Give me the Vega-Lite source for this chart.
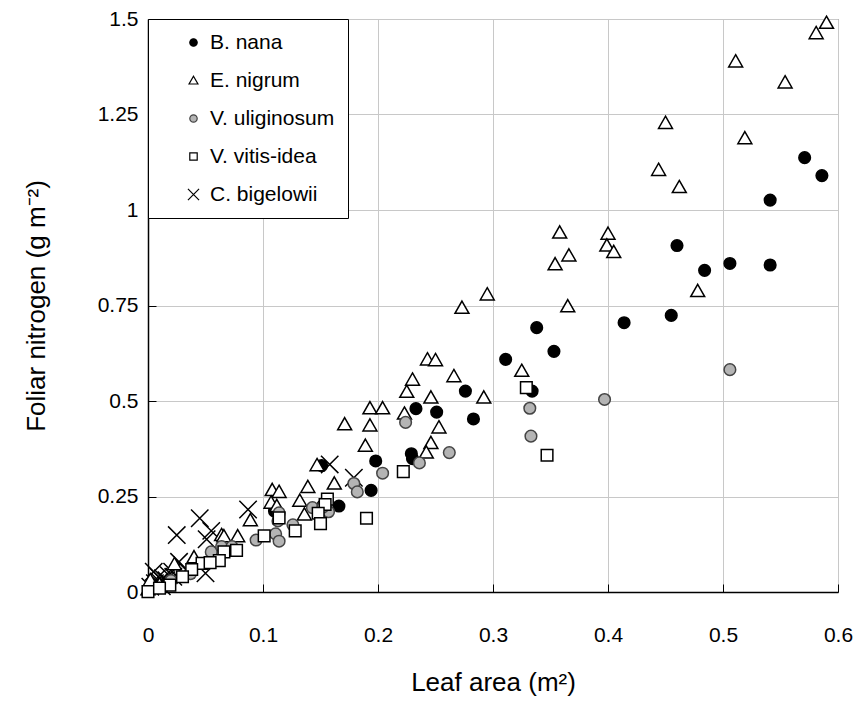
{
  "$schema": "https://vega.github.io/schema/vega-lite/v6.json",
  "width": 690,
  "height": 573,
  "autosize": {"type": "none"},
  "padding": {"left": 148, "top": 19, "right": 26, "bottom": 120},
  "background": "white",
  "config": {
    "font": "Liberation Sans",
    "view": {"stroke": "#555", "strokeWidth": 1},
    "legend": {
      "title": null, "orient": "top-left", "offset": 0,
      "labelFontSize": 21, "labelColor": "black", "labelLimit": 300, "labelOffset": 6,
      "symbolSize": 55, "symbolStrokeWidth": 1.2, "symbolOffset": 22,
      "rowPadding": 16, "padding": 13,
      "strokeColor": "black", "fillColor": "white"
    }
  },
  "data": {"values": [
    {"s":"B. nana","x":0.571,"y":1.137},{"s":"B. nana","x":0.586,"y":1.090},{"s":"B. nana","x":0.541,"y":1.026},
    {"s":"B. nana","x":0.460,"y":0.907},{"s":"B. nana","x":0.506,"y":0.860},{"s":"B. nana","x":0.541,"y":0.856},
    {"s":"B. nana","x":0.484,"y":0.842},{"s":"B. nana","x":0.455,"y":0.724},{"s":"B. nana","x":0.414,"y":0.705},
    {"s":"B. nana","x":0.338,"y":0.692},{"s":"B. nana","x":0.353,"y":0.630},{"s":"B. nana","x":0.311,"y":0.609},
    {"s":"B. nana","x":0.334,"y":0.526},{"s":"B. nana","x":0.276,"y":0.526},{"s":"B. nana","x":0.251,"y":0.471},
    {"s":"B. nana","x":0.233,"y":0.480},{"s":"B. nana","x":0.283,"y":0.453},{"s":"B. nana","x":0.229,"y":0.362},
    {"s":"B. nana","x":0.230,"y":0.349},{"s":"B. nana","x":0.198,"y":0.343},{"s":"B. nana","x":0.151,"y":0.331},
    {"s":"B. nana","x":0.194,"y":0.266},{"s":"B. nana","x":0.166,"y":0.225},{"s":"B. nana","x":0.110,"y":0.212},
    {"s":"B. nana","x":0.152,"y":0.226},

    {"s":"E. nigrum","x":0.590,"y":1.490},{"s":"E. nigrum","x":0.581,"y":1.463},{"s":"E. nigrum","x":0.511,"y":1.389},
    {"s":"E. nigrum","x":0.554,"y":1.334},{"s":"E. nigrum","x":0.450,"y":1.228},{"s":"E. nigrum","x":0.519,"y":1.188},
    {"s":"E. nigrum","x":0.444,"y":1.105},{"s":"E. nigrum","x":0.462,"y":1.060},{"s":"E. nigrum","x":0.400,"y":0.938},
    {"s":"E. nigrum","x":0.399,"y":0.907},{"s":"E. nigrum","x":0.405,"y":0.890},{"s":"E. nigrum","x":0.358,"y":0.941},
    {"s":"E. nigrum","x":0.366,"y":0.881},{"s":"E. nigrum","x":0.354,"y":0.858},{"s":"E. nigrum","x":0.295,"y":0.779},
    {"s":"E. nigrum","x":0.273,"y":0.744},{"s":"E. nigrum","x":0.365,"y":0.748},{"s":"E. nigrum","x":0.478,"y":0.788},
    {"s":"E. nigrum","x":0.243,"y":0.609},{"s":"E. nigrum","x":0.250,"y":0.607},{"s":"E. nigrum","x":0.325,"y":0.579},
    {"s":"E. nigrum","x":0.266,"y":0.565},{"s":"E. nigrum","x":0.246,"y":0.509},{"s":"E. nigrum","x":0.292,"y":0.509},
    {"s":"E. nigrum","x":0.253,"y":0.431},{"s":"E. nigrum","x":0.246,"y":0.390},{"s":"E. nigrum","x":0.230,"y":0.556},
    {"s":"E. nigrum","x":0.225,"y":0.524},{"s":"E. nigrum","x":0.193,"y":0.481},{"s":"E. nigrum","x":0.204,"y":0.481},
    {"s":"E. nigrum","x":0.223,"y":0.467},{"s":"E. nigrum","x":0.193,"y":0.436},{"s":"E. nigrum","x":0.189,"y":0.383},
    {"s":"E. nigrum","x":0.242,"y":0.365},{"s":"E. nigrum","x":0.171,"y":0.439},{"s":"E. nigrum","x":0.147,"y":0.332},
    {"s":"E. nigrum","x":0.162,"y":0.284},{"s":"E. nigrum","x":0.139,"y":0.275},{"s":"E. nigrum","x":0.108,"y":0.267},
    {"s":"E. nigrum","x":0.114,"y":0.262},{"s":"E. nigrum","x":0.132,"y":0.239},{"s":"E. nigrum","x":0.107,"y":0.234},
    {"s":"E. nigrum","x":0.112,"y":0.225},{"s":"E. nigrum","x":0.136,"y":0.203},{"s":"E. nigrum","x":0.089,"y":0.188},
    {"s":"E. nigrum","x":0.064,"y":0.149},{"s":"E. nigrum","x":0.066,"y":0.146},{"s":"E. nigrum","x":0.078,"y":0.146},
    {"s":"E. nigrum","x":0.040,"y":0.091},{"s":"E. nigrum","x":0.023,"y":0.073},{"s":"E. nigrum","x":0.000,"y":0.007},
    {"s":"E. nigrum","x":0.002,"y":0.031},{"s":"E. nigrum","x":0.010,"y":0.020},

    {"s":"V. uliginosum","x":0.506,"y":0.582},{"s":"V. uliginosum","x":0.397,"y":0.504},{"s":"V. uliginosum","x":0.332,"y":0.481},
    {"s":"V. uliginosum","x":0.333,"y":0.408},{"s":"V. uliginosum","x":0.224,"y":0.444},{"s":"V. uliginosum","x":0.262,"y":0.365},
    {"s":"V. uliginosum","x":0.236,"y":0.338},{"s":"V. uliginosum","x":0.204,"y":0.311},{"s":"V. uliginosum","x":0.179,"y":0.284},
    {"s":"V. uliginosum","x":0.182,"y":0.262},{"s":"V. uliginosum","x":0.143,"y":0.221},{"s":"V. uliginosum","x":0.157,"y":0.210},
    {"s":"V. uliginosum","x":0.126,"y":0.176},{"s":"V. uliginosum","x":0.114,"y":0.207},{"s":"V. uliginosum","x":0.113,"y":0.186},
    {"s":"V. uliginosum","x":0.111,"y":0.152},{"s":"V. uliginosum","x":0.114,"y":0.133},{"s":"V. uliginosum","x":0.094,"y":0.136},
    {"s":"V. uliginosum","x":0.055,"y":0.105},{"s":"V. uliginosum","x":0.064,"y":0.119},{"s":"V. uliginosum","x":0.073,"y":0.119},
    {"s":"V. uliginosum","x":0.037,"y":0.048},{"s":"V. uliginosum","x":0.152,"y":0.222},{"s":"V. uliginosum","x":0.020,"y":0.030},

    {"s":"V. vitis-idea","x":0.347,"y":0.358},{"s":"V. vitis-idea","x":0.329,"y":0.535},{"s":"V. vitis-idea","x":0.222,"y":0.315},
    {"s":"V. vitis-idea","x":0.156,"y":0.243},{"s":"V. vitis-idea","x":0.154,"y":0.229},{"s":"V. vitis-idea","x":0.148,"y":0.206},
    {"s":"V. vitis-idea","x":0.150,"y":0.179},{"s":"V. vitis-idea","x":0.190,"y":0.193},{"s":"V. vitis-idea","x":0.128,"y":0.160},
    {"s":"V. vitis-idea","x":0.114,"y":0.194},{"s":"V. vitis-idea","x":0.101,"y":0.147},{"s":"V. vitis-idea","x":0.066,"y":0.105},
    {"s":"V. vitis-idea","x":0.077,"y":0.109},{"s":"V. vitis-idea","x":0.062,"y":0.082},{"s":"V. vitis-idea","x":0.047,"y":0.075},
    {"s":"V. vitis-idea","x":0.054,"y":0.077},{"s":"V. vitis-idea","x":0.038,"y":0.059},{"s":"V. vitis-idea","x":0.000,"y":0.001},
    {"s":"V. vitis-idea","x":0.019,"y":0.018},{"s":"V. vitis-idea","x":0.010,"y":0.010},{"s":"V. vitis-idea","x":0.030,"y":0.040},

    {"s":"C. bigelowii","x":0.158,"y":0.334},{"s":"C. bigelowii","x":0.179,"y":0.299},{"s":"C. bigelowii","x":0.087,"y":0.216},
    {"s":"C. bigelowii","x":0.045,"y":0.193},{"s":"C. bigelowii","x":0.025,"y":0.149},{"s":"C. bigelowii","x":0.055,"y":0.160},
    {"s":"C. bigelowii","x":0.051,"y":0.138},{"s":"C. bigelowii","x":0.027,"y":0.079},{"s":"C. bigelowii","x":0.050,"y":0.049},
    {"s":"C. bigelowii","x":0.005,"y":0.053},{"s":"C. bigelowii","x":0.009,"y":0.040},{"s":"C. bigelowii","x":0.013,"y":0.036},
    {"s":"C. bigelowii","x":0.018,"y":0.044},{"s":"C. bigelowii","x":0.021,"y":0.053},{"s":"C. bigelowii","x":0.010,"y":0.027},
    {"s":"C. bigelowii","x":0.002,"y":0.014},{"s":"C. bigelowii","x":0.006,"y":0.023},{"s":"C. bigelowii","x":0.016,"y":0.031},
    {"s":"C. bigelowii","x":0.022,"y":0.040},{"s":"C. bigelowii","x":0.033,"y":0.058},{"s":"C. bigelowii","x":0.012,"y":0.015}
  ]},
  "mark": {"type": "point", "strokeWidth": 1.5, "opacity": 1, "fillOpacity": 1, "size": 135},
  "encoding": {
    "x": {
      "field": "x", "type": "quantitative",
      "scale": {"domain": [0, 0.6], "nice": false, "zero": true},
      "axis": {
        "values": [0, 0.1, 0.2, 0.3, 0.4, 0.5, 0.6],
        "labelExpr": "'' + datum.value",
        "title": "Leaf area (m²)",
        "titleFontSize": 26, "titleFontWeight": "normal", "titleColor": "black", "titlePadding": 24,
        "labelFontSize": 21, "labelColor": "black", "labelPadding": 40,
        "domainColor": "black", "domainWidth": 1.5,
        "tickColor": "black", "tickSize": -8, "tickWidth": 1,
        "gridColor": "#c8c8c8", "gridWidth": 1, "labelFlush": false
      }
    },
    "y": {
      "field": "y", "type": "quantitative",
      "scale": {"domain": [0, 1.5], "nice": false},
      "axis": {
        "values": [0, 0.25, 0.5, 0.75, 1, 1.25, 1.5],
        "labelExpr": "'' + datum.value",
        "title": "Foliar nitrogen (g m⁻²)",
        "titleFontSize": 26, "titleFontWeight": "normal", "titleColor": "black", "titlePadding": 48,
        "labelFontSize": 21, "labelColor": "black", "labelPadding": 18,
        "domainColor": "black", "domainWidth": 1.5,
        "tickColor": "black", "tickSize": -8, "tickWidth": 1,
        "gridColor": "#c8c8c8", "gridWidth": 1, "labelFlush": false
      }
    },
    "shape": {
      "field": "s", "type": "nominal",
      "scale": {
        "domain": ["B. nana", "E. nigrum", "V. uliginosum", "V. vitis-idea", "C. bigelowii"],
        "range": ["circle", "M0,-1.15L1.2,0.95L-1.2,0.95Z", "circle", "square", "M-1.5,-1.5L1.5,1.5M-1.5,1.5L1.5,-1.5"]
      }
    },
    "fill": {
      "field": "s", "type": "nominal",
      "scale": {
        "domain": ["B. nana", "E. nigrum", "V. uliginosum", "V. vitis-idea", "C. bigelowii"],
        "range": ["black", "white", "#b4b4b4", "white", "transparent"]
      }
    },
    "stroke": {
      "field": "s", "type": "nominal",
      "scale": {
        "domain": ["B. nana", "E. nigrum", "V. uliginosum", "V. vitis-idea", "C. bigelowii"],
        "range": ["black", "black", "#444444", "black", "black"]
      }
    },
    "order": {"field": "s", "sort": "ascending"}
  }
}
